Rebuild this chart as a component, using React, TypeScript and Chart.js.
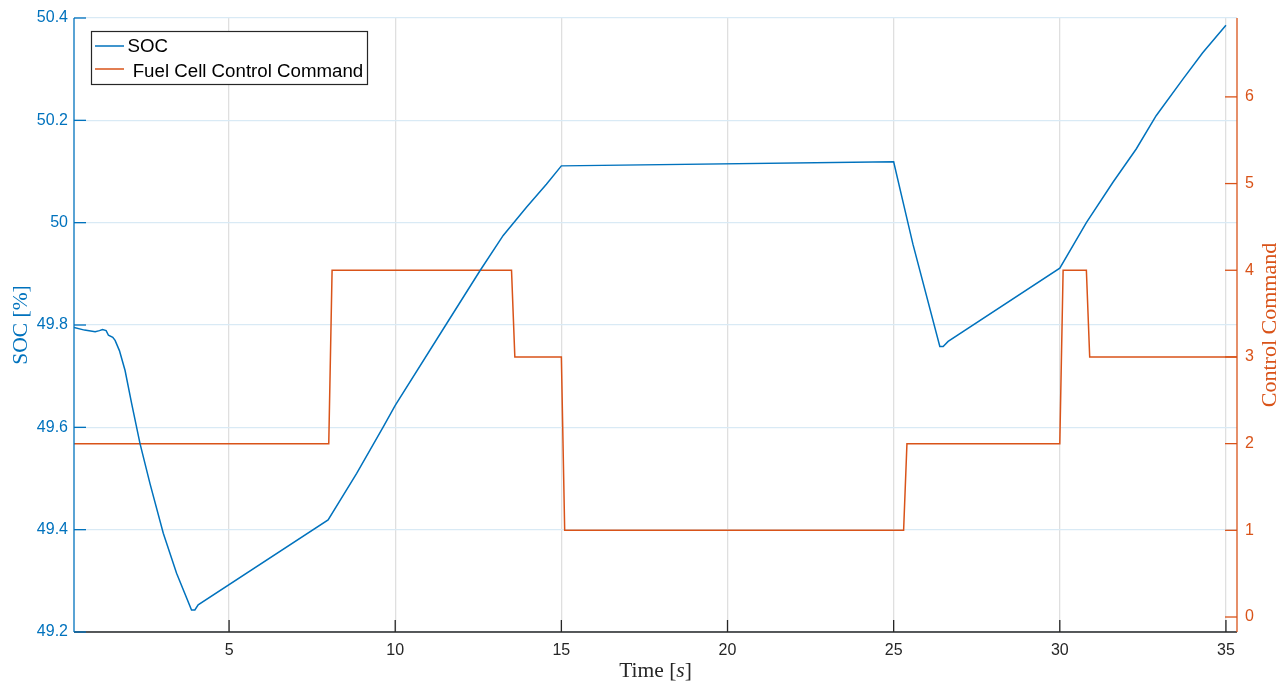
import React, { useEffect, useRef } from "react";
import { Chart, registerables } from "chart.js";

Chart.register(...registerables);

// ---- data ----
const socTime = [
  0.333, 0.65, 0.97, 1.1, 1.19, 1.3, 1.37, 1.5, 1.57, 1.7, 1.87, 2.07, 2.32, 2.62, 3.02, 3.42, 3.87, 3.97,
  4.07, 7.98, 8.84, 9.64, 10.0, 11.54, 12.55, 13.25, 13.95, 14.55, 15.0, 25.0, 25.28, 25.58, 26.39, 26.49,
  26.64, 30.0, 30.8, 31.6, 32.3, 32.9, 33.7, 34.3, 35.0,
];
const socValue = [
  49.795, 49.79, 49.787, 49.789, 49.791, 49.789, 49.78, 49.776, 49.77, 49.75, 49.711, 49.646, 49.568, 49.49,
  49.393, 49.315, 49.243, 49.243, 49.253, 49.419, 49.51, 49.601, 49.643, 49.802, 49.906, 49.975, 50.03,
  50.075, 50.111, 50.119, 50.041, 49.958, 49.758, 49.758, 49.768, 49.911, 50.0, 50.079, 50.144, 50.209,
  50.28, 50.332, 50.386,
];
const cmdTime = [0.333, 8.0, 8.1, 13.5, 13.6, 15.0, 15.1, 25.3, 25.4, 30.0, 30.1, 30.8, 30.9, 35.333];
const cmdValue = [2, 2, 4, 4, 3, 3, 1, 1, 2, 2, 4, 4, 3, 3];

const xTicks = [5, 10, 15, 20, 25, 30, 35];
const socTicks = [49.2, 49.4, 49.6, 49.8, 50, 50.2, 50.4];
const cmdTicks = [0, 1, 2, 3, 4, 5, 6];

const seriesLabels = ["SOC", " Fuel Cell Control Command"];
const xTitle = ["Time [", "s", "]"];
const socTitle = "SOC [%]";
const cmdTitle = "Control Command";

// ---- styles ----
const BLUE = "#0072BD";
const RED = "#D95319";
const DARK = "#262626";
const SANS = "'Liberation Sans', Arial, Helvetica, sans-serif";
const SERIF = "'Liberation Serif', 'Times New Roman', serif";

const decor = {
  id: "decor",
  afterDatasetsDraw(chart: any) {
    const { ctx, chartArea: a, scales } = chart;
    const x = scales.x;
    const yl = scales.y;
    const yr = scales.y1;
    const TL = 12;
    ctx.save();
    ctx.lineWidth = 1.3;
    const seg = (x1: number, y1: number, x2: number, y2: number) => {
      ctx.beginPath();
      ctx.moveTo(x1, y1);
      ctx.lineTo(x2, y2);
      ctx.stroke();
    };
    // x axis
    ctx.strokeStyle = DARK;
    seg(a.left, a.bottom, a.right, a.bottom);
    xTicks.forEach((v) => {
      const p = x.getPixelForValue(v);
      seg(p, a.bottom, p, a.bottom - TL);
    });
    // left axis
    ctx.strokeStyle = BLUE;
    seg(a.left, a.top, a.left, a.bottom);
    socTicks.forEach((v) => {
      const p = yl.getPixelForValue(v);
      seg(a.left, p, a.left + TL, p);
    });
    // right axis
    ctx.strokeStyle = RED;
    seg(a.right, a.top, a.right, a.bottom);
    cmdTicks.forEach((v) => {
      const p = yr.getPixelForValue(v);
      seg(a.right, p, a.right - TL, p);
    });

    // titles
    ctx.font = `21.5px ${SERIF}`;
    ctx.textBaseline = "alphabetic";
    const w0 = ctx.measureText(xTitle[0]).width;
    ctx.font = `italic 21.5px ${SERIF}`;
    const w1 = ctx.measureText(xTitle[1]).width;
    ctx.font = `21.5px ${SERIF}`;
    const w2 = ctx.measureText(xTitle[2]).width;
    const cx = (a.left + a.right) / 2;
    let tx = cx - (w0 + w1 + w2) / 2;
    const ty = 677;
    ctx.fillStyle = DARK;
    ctx.textAlign = "left";
    ctx.fillText(xTitle[0], tx, ty);
    tx += w0;
    ctx.font = `italic 21.5px ${SERIF}`;
    ctx.fillText(xTitle[1], tx, ty);
    tx += w1;
    ctx.font = `21.5px ${SERIF}`;
    ctx.fillText(xTitle[2], tx, ty);

    const cy = (a.top + a.bottom) / 2;
    ctx.textAlign = "center";
    ctx.save();
    ctx.translate(27, cy);
    ctx.rotate(-Math.PI / 2);
    ctx.fillStyle = BLUE;
    ctx.fillText(socTitle, 0, 0);
    ctx.restore();
    ctx.save();
    ctx.translate(1276, cy);
    ctx.rotate(-Math.PI / 2);
    ctx.fillStyle = RED;
    ctx.font = `22px ${SERIF}`;
    ctx.fillText(cmdTitle, 0, 0);
    ctx.restore();

    // legend
    const lx = 91.5, ly = 31.5, lw = 276, lh = 53;
    ctx.fillStyle = "#ffffff";
    ctx.fillRect(lx, ly, lw, lh);
    ctx.strokeStyle = DARK;
    ctx.lineWidth = 1.2;
    ctx.strokeRect(lx, ly, lw, lh);
    const rows = [46, 70.5];
    ctx.font = `18.7px ${SANS}`;
    ctx.textAlign = "left";
    ctx.textBaseline = "middle";
    chart.data.datasets.forEach((ds: any, i: number) => {
      ctx.strokeStyle = ds.borderColor;
      ctx.lineWidth = 1.5;
      const ly2 = rows[i] - (i === 1 ? 1.5 : 0);
      seg(95, ly2, 124, ly2);
      ctx.fillStyle = "#000000";
      ctx.fillText(ds.label, 127.5, rows[i] + 1);
    });
    ctx.restore();
  },
};

export default function App() {
  const ref = useRef<HTMLCanvasElement | null>(null);
  useEffect(() => {
    if (!ref.current) return;
    const chart = new Chart(ref.current, {
      type: "line",
      data: {
        datasets: [
          {
            label: seriesLabels[0],
            data: socTime.map((t, i) => ({ x: t, y: socValue[i] })),
            borderColor: BLUE,
            borderWidth: 1.5,
            pointRadius: 0,
            yAxisID: "y",
            tension: 0,
          },
          {
            label: seriesLabels[1],
            data: cmdTime.map((t, i) => ({ x: t, y: cmdValue[i] })),
            borderColor: RED,
            borderWidth: 1.5,
            pointRadius: 0,
            yAxisID: "y1",
            tension: 0,
          },
        ],
      },
      options: {
        animation: false,
        responsive: false,
        events: [],
        layout: { padding: { top: 18, left: 0, right: 0, bottom: 0 } },
        plugins: { legend: { display: false }, tooltip: { enabled: false }, title: { display: false } },
        scales: {
          x: {
            type: "linear",
            min: 0.333,
            max: 35.333,
            afterBuildTicks: (s: any) => {
              s.ticks = xTicks.map((v) => ({ value: v }));
            },
            afterFit: (s: any) => {
              s.height = 50;
            },
            grid: { color: "#dfdfdf", lineWidth: 1.3, drawTicks: false },
            border: { display: false },
            ticks: { color: DARK, font: { family: SANS, size: 16 }, padding: 9, maxRotation: 0 },
          },
          y: {
            type: "linear",
            position: "left",
            min: 49.2,
            max: 50.4,
            afterBuildTicks: (s: any) => {
              s.ticks = socTicks.map((v) => ({ value: v }));
            },
            afterFit: (s: any) => {
              s.width = 74;
            },
            grid: { color: "#d9eaf5", lineWidth: 1.3, drawTicks: false },
            border: { display: false },
            ticks: {
              color: BLUE,
              font: { family: SANS, size: 16 },
              padding: 6,
              callback: (v: any) => String(Math.round(Number(v) * 10) / 10),
            },
          },
          y1: {
            type: "linear",
            position: "right",
            min: -0.173,
            max: 6.91,
            afterBuildTicks: (s: any) => {
              s.ticks = cmdTicks.map((v) => ({ value: v }));
            },
            afterFit: (s: any) => {
              s.width = 45;
            },
            grid: { display: false, drawTicks: false },
            border: { display: false },
            ticks: { color: RED, font: { family: SANS, size: 16 }, padding: 8 },
          },
        },
      },
      plugins: [decor],
    } as any);
    return () => chart.destroy();
  }, []);
  return (
    <div style={{ position: "absolute", left: 0, top: 0, width: 1282, height: 682, background: "#fff" }}>
      <canvas ref={ref} width={1282} height={682} style={{ display: "block" }} />
    </div>
  );
}
